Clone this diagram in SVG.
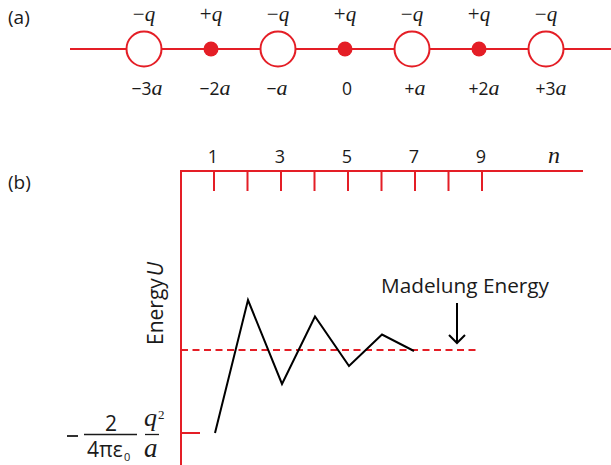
<svg xmlns="http://www.w3.org/2000/svg" width="611" height="465" viewBox="0 0 611 465">
<style>
.red{stroke:#e41e26;stroke-width:2;fill:none}
.sans{font-family:"Open Sans","Liberation Sans",sans-serif;fill:#1a1a1a}
.ser{font-family:"Liberation Serif",serif;fill:#1a1a1a}
.it{font-style:italic}
.blk{stroke:#000;stroke-width:2;fill:none}
.ring{fill:#fff;stroke:#e41e26;stroke-width:2}
.dot{fill:#e41e26}
</style>
<rect width="611" height="465" fill="#fff"/>
<text class="sans" x="8" y="24" font-size="19">(a)</text>
<text class="sans" x="8" y="189" font-size="19">(b)</text>
<g id="chain">
<line class="red" x1="70" y1="49" x2="611" y2="49"/>
</g>
<g id="charges">
<g id="c-3"><circle class="ring" cx="144" cy="49" r="17.5"/></g>
<g id="c-2"><circle class="dot" cx="211" cy="49" r="7.5"/></g>
<g id="c-1"><circle class="ring" cx="278" cy="49" r="17.5"/></g>
<g id="c0"><circle class="dot" cx="345" cy="49" r="7.5"/></g>
<g id="c1"><circle class="ring" cx="412" cy="49" r="17.5"/></g>
<g id="c2"><circle class="dot" cx="479" cy="49" r="7.5"/></g>
<g id="c3"><circle class="ring" cx="546" cy="49" r="17.5"/></g>
</g>
<g id="top-labels" class="ser" font-size="21" text-anchor="middle">
<text x="144" y="21">−<tspan class="it">q</tspan></text>
<text x="211" y="21">+<tspan class="it">q</tspan></text>
<text x="278" y="21">−<tspan class="it">q</tspan></text>
<text x="345" y="21">+<tspan class="it">q</tspan></text>
<text x="412" y="21">−<tspan class="it">q</tspan></text>
<text x="479" y="21">+<tspan class="it">q</tspan></text>
<text x="546" y="21">−<tspan class="it">q</tspan></text>
</g>
<g id="pos-labels" class="sans" font-size="17.5" text-anchor="middle">
<text x="147" y="95">−3<tspan class="ser it" font-size="22">a</tspan></text>
<text x="215" y="95">−2<tspan class="ser it" font-size="22">a</tspan></text>
<text x="277" y="95">−<tspan class="ser it" font-size="22">a</tspan></text>
<text x="347" y="95">0</text>
<text x="415" y="95">+<tspan class="ser it" font-size="22">a</tspan></text>
<text x="484" y="95">+2<tspan class="ser it" font-size="22">a</tspan></text>
<text x="551" y="95">+3<tspan class="ser it" font-size="22">a</tspan></text>
</g>
<g id="axes">
<polyline class="red" points="181,465 181,171 583,171"/>
<path class="red" d="M214,171V191M247.5,171V191M281,171V191M314.5,171V191M348,171V191M381.5,171V191M415,171V191M448.5,171V191M482,171V191M181,433H200"/>
<line x1="181" y1="350" x2="479" y2="350" stroke="#e41e26" stroke-width="2" stroke-dasharray="7,4.5"/>
</g>
<g id="n-labels" class="sans" font-size="18" text-anchor="middle">
<text x="213" y="163">1</text>
<text x="280" y="163">3</text>
<text x="347" y="163">5</text>
<text x="414" y="163">7</text>
<text x="481" y="163">9</text>
<text class="ser it" x="554" y="163" font-size="24">n</text>
</g>
<text class="sans" font-size="21" transform="translate(163,345) rotate(-90)">Energy<tspan class="it" dx="2">U</tspan></text>
<g id="curve">
<polyline class="blk" points="215,433 248,300 282,384 315,316.5 349,366 382,334.5 414,351"/>
</g>
<g id="madelung">
<text class="sans" x="381" y="293" font-size="20" textLength="168" lengthAdjust="spacingAndGlyphs">Madelung Energy</text>
<path class="blk" d="M457,303V343M449,335L457,343L465,335"/>
</g>
<g id="formula">
<line x1="67" y1="436" x2="78" y2="436" stroke="#1a1a1a" stroke-width="1.8"/>
<text class="sans" x="111" y="431" font-size="21" text-anchor="middle">2</text>
<line x1="84" y1="434.5" x2="137" y2="434.5" stroke="#1a1a1a" stroke-width="1.3"/>
<text class="sans" x="87" y="457" font-size="21">4πε</text>
<text class="sans" x="124" y="461" font-size="11">0</text>
<text class="ser it" x="144" y="426" font-size="26">q</text>
<text class="ser" x="158" y="419" font-size="13">2</text>
<line x1="145" y1="434.5" x2="159" y2="434.5" stroke="#1a1a1a" stroke-width="1.3"/>
<text class="ser it" x="144" y="457" font-size="27">a</text>
</g>
</svg>
